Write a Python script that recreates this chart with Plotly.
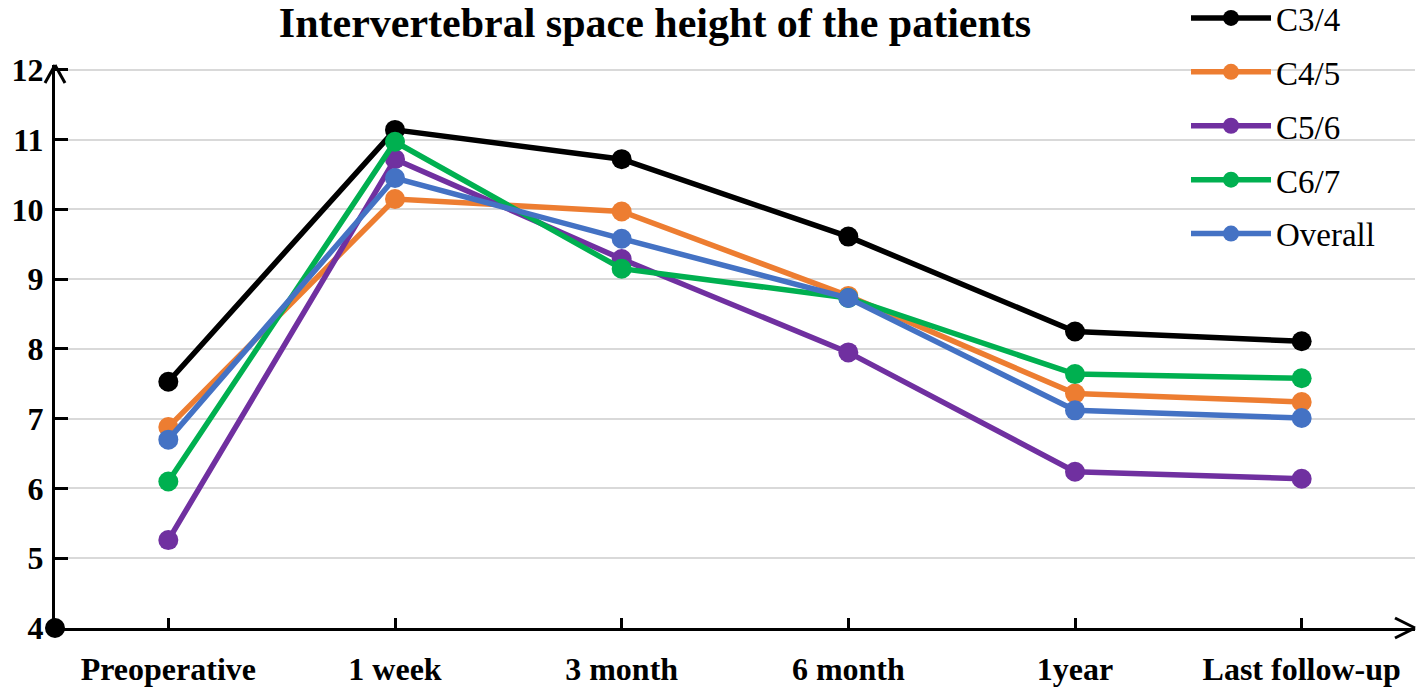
import plotly.graph_objects as go

categories = ["Preoperative", "1 week", "3 month", "6 month", "1year", "Last follow-up"]
series_names = ["C3/4", "C4/5", "C5/6", "C6/7", "Overall"]
c34 = [7.53, 11.14, 10.72, 9.61, 8.25, 8.11]
c45 = [6.88, 10.15, 9.97, 8.76, 7.36, 7.24]
c56 = [5.26, 10.72, 9.29, 7.95, 6.24, 6.14]
c67 = [6.10, 10.97, 9.15, 8.73, 7.64, 7.58]
overall = [6.70, 10.45, 9.58, 8.73, 7.12, 7.01]
y_ticks = [4, 5, 6, 7, 8, 9, 10, 11, 12]

series_values = [c34, c45, c56, c67, overall]
colors = ["#000000", "#ED7D31", "#7030A0", "#00B050", "#4472C4"]
x_idx = list(range(len(categories)))

SERIF = "Liberation Serif, Times New Roman, serif"

W, H = 1418, 690
L, R, T, B = 55, 3, 65, 62

fig = go.Figure()
for name, vals, col in zip(series_names, series_values, colors):
    fig.add_trace(go.Scatter(
        x=x_idx, y=vals, name=name, mode="lines+markers",
        line=dict(color=col, width=5.5),
        marker=dict(color=col, size=20),
        legendgroup=name,
        cliponaxis=False,
    ))

# origin dot
fig.add_trace(go.Scatter(x=[-0.5], y=[y_ticks[0]], mode="markers",
                         marker=dict(color="black", size=20),
                         showlegend=False, cliponaxis=False, hoverinfo="skip"))

def arm(xa, ya, dx, dy):
    return dict(type="line", xref="paper", yref="paper",
                xsizemode="pixel", ysizemode="pixel",
                xanchor=xa, yanchor=ya, x0=0, y0=0, x1=dx, y1=dy,
                line=dict(color="black", width=3))

shapes = [
    arm(0, 1, -10, -18), arm(0, 1, 10, -18),   # y-axis arrow head
    arm(1, 0, -20, 10), arm(1, 0, -20, -10),   # x-axis arrow head
]

fig.update_layout(
    width=W, height=H,
    margin=dict(l=L, r=R, t=T, b=B, autoexpand=False),
    paper_bgcolor="white", plot_bgcolor="white",
    title=dict(text="<b>Intervertebral space height of the patients</b>",
               x=655 / W, xanchor="center", y=1 - 22 / H, yanchor="middle",
               font=dict(family=SERIF, size=42, color="black")),
    xaxis=dict(range=[-0.5, 5.5], tickmode="array", tickvals=x_idx, ticktext=categories,
               showgrid=False, zeroline=False, showline=True, linecolor="black", linewidth=3,
               ticks="inside", ticklen=10, tickwidth=3, tickcolor="black",
               ticklabelstandoff=11,
               tickfont=dict(family=SERIF, size=32, color="black", weight="bold")),
    yaxis=dict(range=[4, 12.07], tickmode="array", tickvals=y_ticks,
               showgrid=True, gridcolor="#d9d9d9", gridwidth=2, zeroline=False,
               showline=True, linecolor="black", linewidth=3,
               ticks="inside", ticklen=13, tickwidth=3, tickcolor="black",
               ticklabelstandoff=2,
               tickfont=dict(family=SERIF, size=32, color="black", weight="bold")),
    legend=dict(x=(1186 - L) / (W - L - R), y=1 + (T + 10) / (H - T - B), yanchor="top",
                font=dict(family=SERIF, size=33, color="black"),
                bgcolor="rgba(0,0,0,0)", itemwidth=80, tracegroupgap=8,
                traceorder="grouped"),
    shapes=shapes,
    showlegend=True,
)

fig.write_html("out.html", config={"displayModeBar": False},
               post_script="document.body.style.margin='0px';")
